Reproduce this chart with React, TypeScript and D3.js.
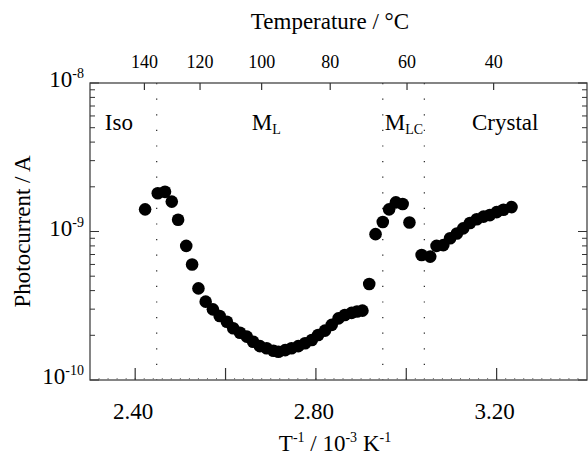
import React, { useEffect, useRef } from "react";
import * as d3 from "d3";

// T^-1 (10^-3 K^-1) and photocurrent (A)
const invT = [
  2.422, 2.45, 2.466, 2.481, 2.495, 2.513, 2.526, 2.54, 2.556, 2.572, 2.587,
  2.603, 2.617, 2.632, 2.647, 2.661, 2.676, 2.691, 2.706, 2.717, 2.732, 2.746,
  2.761, 2.776, 2.791, 2.805, 2.82, 2.835, 2.85, 2.864, 2.879, 2.891, 2.903,
  2.918, 2.932, 2.948, 2.962, 2.977, 2.992, 3.007, 3.034, 3.053, 3.067, 3.082,
  3.097, 3.112, 3.126, 3.141, 3.156, 3.171, 3.185, 3.2, 3.215, 3.233,
];
const current = [
  1.41e-9, 1.81e-9, 1.85e-9, 1.59e-9, 1.2e-9, 8.0e-10, 6.0e-10, 4.14e-10,
  3.37e-10, 2.99e-10, 2.7e-10, 2.47e-10, 2.23e-10, 2.08e-10, 1.96e-10,
  1.81e-10, 1.69e-10, 1.635e-10, 1.575e-10, 1.55e-10, 1.59e-10, 1.635e-10,
  1.69e-10, 1.77e-10, 1.86e-10, 2.01e-10, 2.15e-10, 2.35e-10, 2.6e-10,
  2.74e-10, 2.83e-10, 2.89e-10, 2.93e-10, 4.43e-10, 9.6e-10, 1.16e-9, 1.41e-9,
  1.57e-9, 1.53e-9, 1.15e-9, 6.95e-10, 6.77e-10, 8.0e-10, 8.1e-10, 9.0e-10,
  9.7e-10, 1.05e-9, 1.14e-9, 1.21e-9, 1.26e-9, 1.29e-9, 1.35e-9, 1.4e-9,
  1.46e-9,
];

const phaseBounds = [2.4476, 2.948, 3.04];
const phaseNames = ["Iso", "M", "M", "Crystal"];
const phaseSubs = ["", "L", "LC", ""];
const phaseCenters = [2.364, 2.69, 2.995, 3.219];

const tempTicks = [140, 120, 100, 80, 60, 40];
const xTicks = [2.4, 2.6, 2.8, 3.0, 3.2];
const xLabelTicks = [2.4, 2.8, 3.2];
const yExponents = [-8, -9, -10];

const App = () => {
  const svgRef = useRef<SVGSVGElement>(null);

  useEffect(() => {
    const svg = d3.select(svgRef.current);
    svg.selectAll("*").remove();

    const margin = { top: 83, right: 1, bottom: 79, left: 90 };
    const W = 588;
    const H = 459;
    const width = W - margin.left - margin.right;
    const height = H - margin.top - margin.bottom;
    const font = "'Liberation Serif', 'Times New Roman', serif";

    const x = d3.scaleLinear().domain([2.3, 3.4]).range([0, width]);
    const y = d3.scaleLog().domain([1e-10, 1e-8]).range([height, 0]);

    const g = svg
      .append("g")
      .attr("transform", `translate(${margin.left}, ${margin.top})`);

    // dotted phase boundaries
    g.append("g")
      .selectAll("line")
      .data(phaseBounds)
      .join("line")
      .attr("x1", (d) => x(d))
      .attr("x2", (d) => x(d))
      .attr("y1", 0)
      .attr("y2", height)
      .attr("stroke", "#222")
      .attr("stroke-width", 1.2)
      .attr("stroke-dasharray", "1.2 14.4");

    // frame
    g.append("rect")
      .attr("width", width)
      .attr("height", height)
      .attr("fill", "none")
      .attr("stroke", "#444")
      .attr("stroke-width", 1.3);

    const ink = "#333";

    // bottom axis: minor and major ticks pointing inward
    const minor = d3.range(2.32, 3.4, 0.02);
    g.append("g")
      .selectAll("line")
      .data(minor)
      .join("line")
      .attr("x1", (d) => x(d))
      .attr("x2", (d) => x(d))
      .attr("y1", height)
      .attr("y2", height - 2)
      .attr("stroke", "#777");
    g.append("g")
      .selectAll("line")
      .data(xTicks)
      .join("line")
      .attr("x1", (d) => x(d))
      .attr("x2", (d) => x(d))
      .attr("y1", height)
      .attr("y2", height - 12)
      .attr("stroke", ink)
      .attr("stroke-width", 1.2);
    g.append("g")
      .selectAll("text")
      .data(xLabelTicks)
      .join("text")
      .attr("x", (d) => x(d) - 2)
      .attr("y", height + 39)
      .attr("text-anchor", "middle")
      .attr("font-family", font)
      .attr("font-size", 23)
      .text((d) => d3.format(".2f")(d));

    // top axis: temperature
    const tx = (t: number) => x(1000 / (t + 273.15));
    g.append("g")
      .selectAll("line")
      .data(tempTicks)
      .join("line")
      .attr("x1", (d) => tx(d))
      .attr("x2", (d) => tx(d))
      .attr("y1", 0)
      .attr("y2", 7)
      .attr("stroke", ink)
      .attr("stroke-width", 1.2);
    g.append("g")
      .selectAll("text")
      .data(tempTicks)
      .join("text")
      .attr("x", (d) => tx(d))
      .attr("y", -15)
      .attr("text-anchor", "middle")
      .attr("font-family", font)
      .attr("font-size", 18)
      .text((d) => d);

    // left and right log ticks
    const logTicks = y.ticks();
    [0, width].forEach((x0) => {
      const dir = x0 === 0 ? 1 : -1;
      g.append("g")
        .selectAll("line")
        .data(logTicks)
        .join("line")
        .attr("x1", x0)
        .attr("x2", (d) => {
          const m = Math.abs(Math.log10(d) - Math.round(Math.log10(d))) < 1e-6;
          return x0 + dir * (m ? 9 : 5);
        })
        .attr("y1", (d) => y(d))
        .attr("y2", (d) => y(d))
        .attr("stroke", ink);
    });

    const yl = g
      .append("g")
      .selectAll("text")
      .data(yExponents)
      .join("text")
      .attr("x", -6)
      .attr("y", (d) => y(Math.pow(10, d)) + 4)
      .attr("text-anchor", "end")
      .attr("font-family", font)
      .attr("font-size", 23);
    yl.append("tspan").text("10");
    yl.append("tspan")
      .attr("font-size", 14)
      .attr("dy", -9)
      .text((d) => String(d));

    // phase labels
    const pl = g
      .append("g")
      .selectAll("text")
      .data(phaseNames)
      .join("text")
      .attr("x", (_, i) => x(phaseCenters[i]))
      .attr("y", 47)
      .attr("text-anchor", "middle")
      .attr("font-family", font)
      .attr("font-size", 23);
    pl.append("tspan").text((d) => d);
    pl.append("tspan")
      .attr("font-size", 14)
      .attr("dy", 4)
      .text((_, i) => phaseSubs[i]);

    // data
    g.append("g")
      .selectAll("circle")
      .data(invT)
      .join("circle")
      .attr("cx", (d) => x(d))
      .attr("cy", (_, i) => y(current[i]))
      .attr("r", 6.3)
      .attr("fill", "#000");

    // axis titles
    svg
      .append("text")
      .attr("x", 330)
      .attr("y", 29)
      .attr("text-anchor", "middle")
      .attr("font-family", font)
      .attr("font-size", 23)
      .text("Temperature / °C");

    const xt = svg
      .append("text")
      .attr("x", 335)
      .attr("y", 451)
      .attr("text-anchor", "middle")
      .attr("font-family", font)
      .attr("font-size", 23);
    xt.append("tspan").text("T");
    xt.append("tspan").attr("font-size", 14).attr("dy", -9).text("-1");
    xt.append("tspan").attr("dy", 9).text(" / 10");
    xt.append("tspan").attr("font-size", 14).attr("dy", -9).text("-3");
    xt.append("tspan").attr("dy", 9).text(" K");
    xt.append("tspan").attr("font-size", 14).attr("dy", -9).text("-1");

    svg
      .append("text")
      .attr("transform", `translate(30, ${margin.top + height / 2}) rotate(-90)`)
      .attr("text-anchor", "middle")
      .attr("font-family", font)
      .attr("font-size", 23)
      .text("Photocurrent / A");
  }, []);

  return (
    <svg
      ref={svgRef}
      width={588}
      height={459}
      style={{ position: "absolute", left: 0, top: 0, background: "#fff" }}
    />
  );
};

export default App;
